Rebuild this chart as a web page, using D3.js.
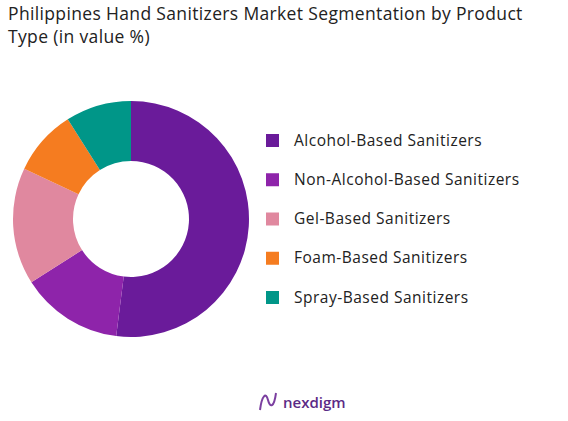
<!DOCTYPE html>
<html><head><meta charset="utf-8">
<script src="https://cdn.jsdelivr.net/npm/d3@7"></script>
<style>body{margin:0;background:#fff;font-family:"Open Sans",sans-serif;}</style>
</head><body>
<script>
const categories = ["Alcohol-Based Sanitizers","Non-Alcohol-Based Sanitizers","Gel-Based Sanitizers","Foam-Based Sanitizers","Spray-Based Sanitizers"];
const values = [52, 14, 16, 9, 9];
const colors = ["#6a1b9a","#8e24aa","#e0889f","#f57c20","#009688"];

const w = 568, h = 421;
const svg = d3.select("body").append("svg").attr("width", w).attr("height", h);

svg.append("text").attr("x", 8).attr("y", 20).attr("font-size", 17.5).attr("letter-spacing", 0.35).attr("fill", "#222")
  .text("Philippines Hand Sanitizers Market Segmentation by Product");
svg.append("text").attr("x", 8).attr("y", 43).attr("font-size", 17.5).attr("letter-spacing", 0.35).attr("fill", "#222")
  .text("Type (in value %)");

const pie = d3.pie().sort(null).value(d => d);
const arc = d3.arc().innerRadius(58).outerRadius(118);
const g = svg.append("g").attr("transform", "translate(131,219)");
g.selectAll("path").data(pie(values)).enter().append("path")
  .attr("d", arc).attr("fill", (d, i) => colors[i]);

// legend
const legY = d3.scalePoint().domain(categories).range([140, 297]);
const leg = svg.selectAll(".leg").data(categories).enter().append("g")
  .attr("transform", d => `translate(266,${legY(d)})`);
leg.append("rect").attr("x", 0).attr("y", -6).attr("width", 13).attr("height", 13)
  .attr("fill", (d, i) => colors[i]);
leg.append("text").attr("x", 28).attr("y", 5.5).attr("font-size", 15.5).attr("letter-spacing", 0.5).attr("fill", "#222").text(d => d);

// logo
svg.append("text").attr("x", 283).attr("y", 408).attr("font-size", 15).attr("font-weight", 600)
  .attr("fill", "#5b2a86").text("nexdigm");
svg.append("path").attr("d", "M260,410 C262,395 266,392 268,400 C270,408 274,408 276,393")
  .attr("fill", "none").attr("stroke", "#7b3fa0").attr("stroke-width", 2);
</script>
</body></html>
